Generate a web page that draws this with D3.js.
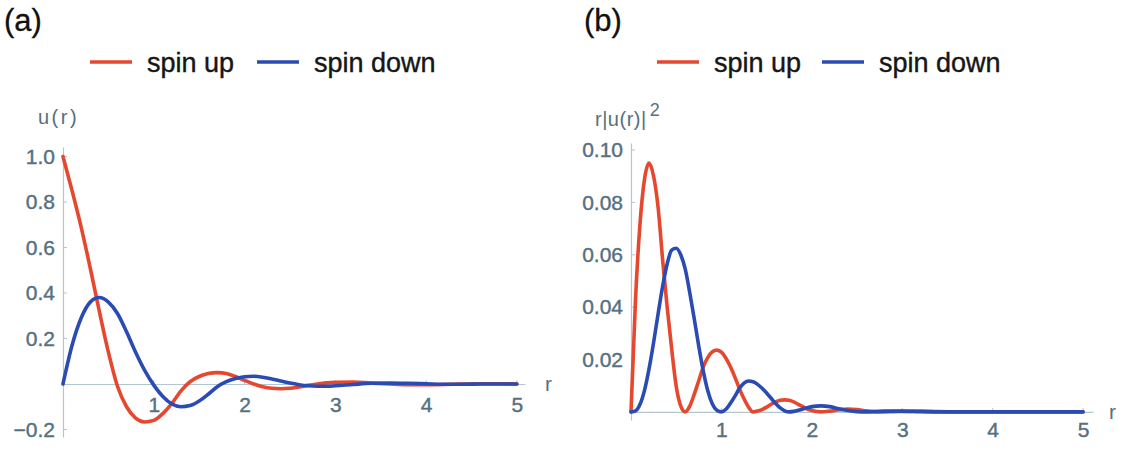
<!DOCTYPE html>
<html>
<head>
<meta charset="utf-8">
<script src="https://cdn.jsdelivr.net/npm/d3@7"></script>
<style>
  body { margin: 0; background: #ffffff; }
  text { font-family: "Liberation Sans", Arial, sans-serif; }
</style>
</head>
<body>
<div id="chart"></div>
<script>
// legend / series names
var seriesNames = ["spin up", "spin down"]
var seriesColors = ["#e5482f", "#2a4bb3"]

// (a) u(r), sampled along r
var rU = [0, 0.1, 0.2, 0.3, 0.4, 0.5, 0.6, 0.7, 0.8, 0.9, 1.0, 1.1, 1.2, 1.3, 1.4, 1.5, 1.6, 1.7, 1.8, 1.9,
    2.0, 2.1, 2.2, 2.3, 2.4, 2.5, 2.6, 2.7, 2.8, 2.9, 3.0, 3.2, 3.4, 3.6, 3.8, 4.0, 4.2, 4.4, 4.6, 4.8, 5.0]
var upU = [1.00, 0.85, 0.69, 0.51, 0.32, 0.14, -0.01, -0.10, -0.150, -0.167, -0.160, -0.130, -0.085, -0.030, 0.010,
    0.033, 0.046, 0.050, 0.046, 0.033, 0.016, 0.000, -0.012, -0.019, -0.021, -0.019, -0.013, -0.006, 0.000, 0.005,
    0.008, 0.009, 0.004, 0.000, -0.003, -0.003, -0.002, 0.000, 0.001, 0.001, 0.000]
var downU = [0, 0.17, 0.29, 0.36, 0.38, 0.36, 0.31, 0.23, 0.14, 0.06, -0.005, -0.055, -0.088, -0.100, -0.095,
    -0.075, -0.045, -0.012, 0.010, 0.024, 0.032, 0.034, 0.030, 0.022, 0.013, 0.004, -0.003, -0.008, -0.010, -0.010,
    -0.008, -0.002, 0.003, 0.004, 0.003, 0.001, -0.001, -0.001, 0.000, 0.000, 0.000]

// (b) r|u(r)|^2, sampled along r
var rD = [0, 0.05, 0.1, 0.15, 0.2, 0.25, 0.3, 0.35, 0.4, 0.45, 0.5, 0.55, 0.6, 0.65, 0.7, 0.75, 0.8, 0.85, 0.9, 0.95,
    1.0, 1.05, 1.1, 1.15, 1.2, 1.25, 1.3, 1.35, 1.4, 1.45, 1.5, 1.55, 1.6, 1.65, 1.7, 1.75, 1.8, 1.85, 1.9, 1.95,
    2.0, 2.1, 2.2, 2.3, 2.4, 2.5, 2.6, 2.7, 2.8, 2.9, 3.0, 3.2, 3.4, 3.6, 3.8, 4.0, 4.2, 4.4, 4.6, 4.8, 5.0]
var upD = [0, 0.043, 0.072, 0.089, 0.095, 0.090, 0.078, 0.058, 0.040, 0.024, 0.0098, 0.0023, 0.0000, 0.0022,
    0.0068, 0.0120, 0.0172, 0.0208, 0.0230, 0.0236, 0.0228, 0.0205, 0.0172, 0.0132, 0.0088, 0.0050, 0.0018, 0.0000,
    0.0003, 0.0009, 0.0018, 0.0029, 0.0038, 0.0044, 0.0046, 0.0044, 0.0038, 0.0029, 0.0020, 0.0011, 0.0005,
    0.0000, 0.0003, 0.0008, 0.0011, 0.0009, 0.0004, 0.0001, 0.0000, 0.0001, 0.0002,
    0.0003, 0.0001, 0.0000, 0.0000, 0.0000, 0.0000, 0.0000, 0.0000, 0.0000, 0.0000]
var downD = [0, 0.0004, 0.0029, 0.0083, 0.0165, 0.0265, 0.0375, 0.0480, 0.0565, 0.0618, 0.0625, 0.0600, 0.0545,
    0.0455, 0.0355, 0.0250, 0.0155, 0.0080, 0.0030, 0.0006, 0.0000, 0.0010, 0.0033, 0.0060, 0.0090, 0.0110, 0.0118,
    0.0115, 0.0105, 0.0090, 0.0072, 0.0052, 0.0032, 0.0015, 0.0004, 0.0000, 0.0002, 0.0006, 0.0011, 0.0016, 0.0020,
    0.0023, 0.0020, 0.0012, 0.0005, 0.0001, 0.0000, 0.0001, 0.0003, 0.0003, 0.0003,
    0.0001, 0.0000, 0.0000, 0.0000, 0.0000, 0.0000, 0.0000, 0.0000, 0.0000, 0.0000]

// tick labels
var xTicks = [1, 2, 3, 4, 5]
var yTicksA = [-0.2, 0.2, 0.4, 0.6, 0.8, 1.0]
var yTicksB = [0.02, 0.04, 0.06, 0.08, 0.10]

var axisColor = "#b3c6cf"
var labelColor = "#557080"

var svg = d3.select("#chart")
    .append("svg")
    .attr("width", 1125)
    .attr("height", 451)

svg.append("rect")
    .attr("width", 1125)
    .attr("height", 451)
    .attr("fill", "#ffffff")

function drawPanel(opt) {
    var g = svg.append("g")

    var x = d3.scaleLinear().domain(opt.xDomain).range(opt.xRange)
    var y = d3.scaleLinear().domain(opt.yDomain).range(opt.yRange)

    // panel label
    g.append("text")
        .attr("x", opt.tagX)
        .attr("y", 31)
        .style("font-size", "31px")
        .style("fill", "#111")
        .style("stroke", "#111").style("stroke-width", 0.3)
        .text(opt.tag)

    // legend
    var legend = g.append("g").attr("transform", "translate(" + opt.legendX + ",62)")
    var offsets = [0, opt.legendGap]
    seriesNames.forEach(function (name, i) {
        legend.append("line")
            .attr("x1", offsets[i]).attr("x2", offsets[i] + 42)
            .attr("y1", 0).attr("y2", 0)
            .style("stroke", seriesColors[i])
            .style("stroke-width", 3.5)
        legend.append("text")
            .attr("x", offsets[i] + 57)
            .attr("y", 10)
            .style("font-size", "27px")
            .style("fill", "#161616")
            .style("stroke", "#161616").style("stroke-width", 0.4)
            .text(name)
    })

    // x axis along y = 0
    var xAxis = g.append("g")
        .attr("transform", "translate(0," + y(0) + ")")
        .call(d3.axisBottom(x).tickValues(xTicks).tickSize(0).tickPadding(opt.xPad).tickFormat(d3.format("d")))
    xAxis.select(".domain").attr("stroke", axisColor).attr("stroke-width", 1.2)
    xAxis.selectAll("text").style("font-size", "21px").style("fill", labelColor)
        .style("stroke", labelColor).style("stroke-width", 0.4)

    // y axis at r = 0
    var yAxis = g.append("g")
        .attr("transform", "translate(" + x(0) + ",0)")
        .call(d3.axisLeft(y).tickValues(opt.yTicks).tickSize(0).tickPadding(8).tickFormat(d3.format(opt.yFormat)))
    yAxis.select(".domain").attr("stroke", axisColor).attr("stroke-width", 1.2)
    yAxis.selectAll("text").style("font-size", "21px").style("fill", labelColor)
        .style("stroke", labelColor).style("stroke-width", 0.4)

    // small tick marks
    g.selectAll(".xt").data(xTicks).enter().append("line")
        .attr("x1", function (d) { return x(d) }).attr("x2", function (d) { return x(d) })
        .attr("y1", y(0)).attr("y2", y(0) - 4)
        .style("stroke", axisColor)
    g.selectAll(".yt").data(opt.yTicks).enter().append("line")
        .attr("x1", x(0)).attr("x2", x(0) + 4)
        .attr("y1", function (d) { return y(d) }).attr("y2", function (d) { return y(d) })
        .style("stroke", axisColor)

    // axis names
    g.append("text")
        .attr("x", x(0) + opt.rLabelDx)
        .attr("y", y(0) + 7)
        .style("font-size", "21px")
        .style("fill", labelColor)
        .text("r")

    var yl = g.append("text")
        .attr("x", opt.yLabelX)
        .attr("y", opt.yLabelY)
        .style("font-size", "20px")
        .style("fill", labelColor)
        .style("letter-spacing", opt.yLabelSpacing)
    yl.append("tspan").text(opt.yLabel)
    if (opt.yLabelSup) {
        yl.append("tspan").attr("dx", 3).attr("dy", -10).style("font-size", "18px").text(opt.yLabelSup)
    }

    // curves
    var line = d3.line()
        .x(function (d) { return x(d[0]) })
        .y(function (d) { return y(d[1]) })
        .curve(d3.curveMonotoneX)

    opt.series.forEach(function (vals, i) {
        var pts = opt.r.map(function (r, k) { return [r, vals[k]] })
        g.append("path")
            .datum(pts)
            .attr("d", line)
            .style("fill", "none")
            .style("stroke", seriesColors[i])
            .style("stroke-width", 3.6)
            .style("stroke-linejoin", "round")
            .style("stroke-linecap", "round")
    })
}

drawPanel({
    tag: "(a)", tagX: 4,
    legendX: 90, legendGap: 167,
    xDomain: [0, 5.09], xRange: [63, 525],
    yDomain: [-0.233, 1.042], yRange: [437, 147],
    xPad: 13, yTicks: yTicksA, yFormat: ".1f",
    rLabelDx: 482,
    yLabel: "u(r)", yLabelX: 38, yLabelY: 124, yLabelSpacing: "2.5px",
    r: rU, series: [upU, downU]
})

drawPanel({
    tag: "(b)", tagX: 584,
    legendX: 657, legendGap: 165,
    xDomain: [0, 5.11], xRange: [631, 1093],
    yDomain: [-0.0031, 0.1027], yRange: [420, 143],
    xPad: 10, yTicks: yTicksB, yFormat: ".2f",
    rLabelDx: 478,
    yLabel: "r|u(r)|", yLabelX: 595, yLabelY: 126, yLabelSpacing: "0.5px", yLabelSup: "2",
    r: rD, series: [upD, downD]
})
</script>
</body>
</html>
